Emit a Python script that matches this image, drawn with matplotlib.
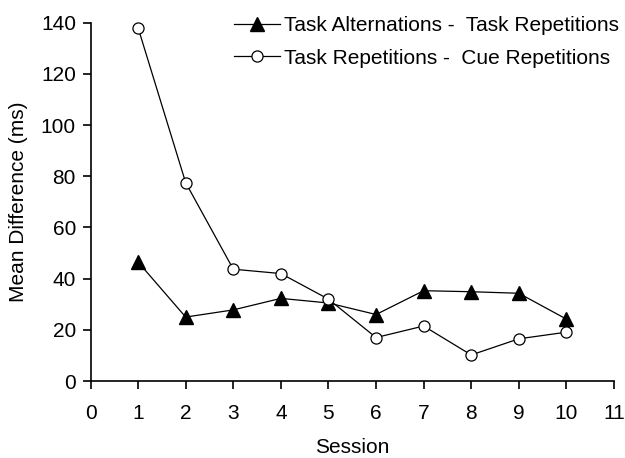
import matplotlib
matplotlib.use('Agg')
import matplotlib.pyplot as plt

plt.rcParams['font.family'] = ['Liberation Sans', 'DejaVu Sans']

# data
sessions = [1, 2, 3, 4, 5, 6, 7, 8, 9, 10]
alt_minus_rep = [46.5, 25, 27.8, 32.3, 30.5, 26, 35.3, 34.9, 34.3, 24.2]
rep_minus_cue = [138, 77.5, 43.7, 42, 32, 17, 21.5, 10.2, 16.5, 19.1]
label_alt = 'Task Alternations -  Task Repetitions'
label_cue = 'Task Repetitions -  Cue Repetitions'

fs = 15
fig = plt.figure(figsize=(6.25, 4.58), dpi=100)
ax = fig.add_axes([0.1448, 0.168, 0.8376, 0.7824])

ax.plot(sessions, alt_minus_rep, color='black', lw=0.9, marker='^',
        ms=9.5, mfc='black', mec='black', label=label_alt, clip_on=False)
ax.plot(sessions, rep_minus_cue, color='black', lw=0.9, marker='o',
        ms=8, mfc='white', mec='black', mew=0.9, label=label_cue, clip_on=False)

ax.set_xlim(0, 11)
ax.set_ylim(0, 140)
ax.set_xticks(range(0, 12))
ax.set_yticks(range(0, 141, 20))
ax.spines['top'].set_visible(False)
ax.spines['right'].set_visible(False)
ax.spines['left'].set_linewidth(1.2)
ax.spines['bottom'].set_linewidth(1.2)
ax.tick_params(direction='out', length=5.5, width=1.2, labelsize=fs, pad=5)
ax.tick_params(axis='x', pad=11)

ax.set_xlabel('Session', fontsize=fs, labelpad=11)
ax.set_ylabel('Mean Difference (ms)', fontsize=fs, labelpad=9)

ax.legend(loc='upper left', bbox_to_anchor=(234 / 625, 1 - 16 / 458),
          bbox_transform=fig.transFigure, frameon=False, fontsize=fs,
          handlelength=2.2, handletextpad=0.2, labelspacing=0.65,
          borderpad=0, borderaxespad=0)

fig.savefig('out.png', dpi=100)
